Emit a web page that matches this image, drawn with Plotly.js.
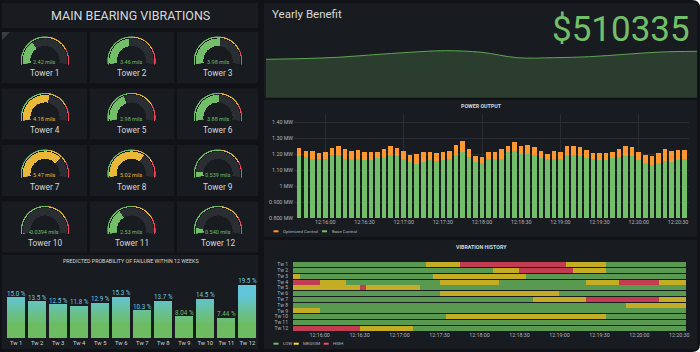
<!DOCTYPE html>
<html><head><meta charset="utf-8">
<script src="https://cdn.plot.ly/plotly-3.0.1.min.js"></script>
<style>html,body{margin:0;padding:0;background:#111217;}#chart{width:700px;height:352px;}</style>
</head><body><div id="chart"></div>
<script>
// ------------------ DATA ------------------
const towerNames = ["Tower 1","Tower 2","Tower 3","Tower 4","Tower 5","Tower 6","Tower 7","Tower 8","Tower 9","Tower 10","Tower 11","Tower 12"];
const vibrationMils = [2.42, 3.46, 3.98, 4.18, 2.98, 3.88, 5.47, 5.02, 0.539, 0.0394, 2.53, 0.540];
const vibrationText = ["2.42 mils","3.46 mils","3.98 mils","4.18 mils","2.98 mils","3.88 mils","5.47 mils","5.02 mils","0.539 mils","0.0394 mils","2.53 mils","0.540 mils"];
const gaugeMin = 0, gaugeMax = 7.5;
const gaugeThresholds = [0, 4, 6];

const failureCats = ["Tw 1","Tw 2","Tw 3","Tw 4","Tw 5","Tw 6","Tw 7","Tw 8","Tw 9","Tw 10","Tw 11","Tw 12"];
const failureProb = [15.0, 13.5, 12.5, 11.8, 12.9, 15.3, 10.3, 13.7, 8.04, 14.5, 7.44, 19.5];

const benefitValue = "$510335";
const benefitTrend = [38.4, 39.1, 40.4, 43.0, 45.4, 47.0, 45.4, 40.0, 40.0, 41.0, 43.4, 45.7, 46.4];

const powerTimes = ["12:15:40","12:15:45","12:15:50","12:15:55",
 "12:16:00","12:16:05","12:16:10","12:16:15","12:16:20","12:16:25","12:16:30","12:16:35","12:16:40","12:16:45","12:16:50","12:16:55",
 "12:17:00","12:17:05","12:17:10","12:17:15","12:17:20","12:17:25","12:17:30","12:17:35","12:17:40","12:17:45","12:17:50","12:17:55",
 "12:18:00","12:18:05","12:18:10","12:18:15","12:18:20","12:18:25","12:18:30","12:18:35","12:18:40","12:18:45","12:18:50","12:18:55",
 "12:19:00","12:19:05","12:19:10","12:19:15","12:19:20","12:19:25","12:19:30","12:19:35","12:19:40","12:19:45","12:19:50","12:19:55",
 "12:20:00","12:20:05","12:20:10","12:20:15","12:20:20","12:20:25","12:20:30","12:20:35"];
const optimizedMW = [1.237,1.220,1.220,1.206,1.214,1.237,1.250,1.231,1.220,1.225,
 1.214,1.210,1.212,1.233,1.250,1.239,1.220,1.195,1.202,1.212,
 1.214,1.206,1.214,1.216,1.258,1.281,1.233,1.189,1.183,1.214,
 1.212,1.231,1.250,1.275,1.252,1.258,1.244,1.216,1.202,1.216,
 1.212,1.250,1.248,1.241,1.225,1.208,1.208,1.206,1.214,1.233,
 1.252,1.241,1.214,1.195,1.185,1.208,1.233,1.220,1.223,1.227];
const baseMW = [1.189,1.179,1.170,1.166,1.168,1.195,1.195,1.170,1.170,1.170,
 1.164,1.160,1.172,1.181,1.193,1.189,1.166,1.147,1.135,1.151,
 1.160,1.154,1.164,1.170,1.195,1.214,1.179,1.147,1.145,1.168,
 1.168,1.168,1.212,1.220,1.202,1.202,1.193,1.177,1.168,1.168,
 1.168,1.195,1.195,1.189,1.177,1.168,1.162,1.160,1.174,1.181,
 1.189,1.185,1.162,1.145,1.133,1.145,1.158,1.151,1.164,1.168];
const powerTickVals = [0.8, 0.9, 1.0, 1.1, 1.2, 1.3, 1.4];
const powerTickText = ["0.800 MW","0.900 MW","1 MW","1.10 MW","1.20 MW","1.30 MW","1.40 MW"];

const historyRows = ["Tw 1","Tw 2","Tw 3","Tw 4","Tw 5","Tw 6","Tw 7","Tw 8","Tw 9","Tw 10","Tw 11","Tw 12"];
const historyStates = ["LOW","MEDIUM","HIGH"];
const historyChanges = [
 [["12:15:40","LOW"],["12:17:20","MEDIUM"],["12:17:45","HIGH"],["12:19:05","MEDIUM"],["12:19:35","LOW"]],
 [["12:15:40","LOW"],["12:18:10","MEDIUM"],["12:18:30","HIGH"],["12:19:10","MEDIUM"],["12:19:35","LOW"]],
 [["12:15:40","MEDIUM"],["12:15:45","LOW"],["12:17:25","MEDIUM"],["12:18:35","LOW"]],
 [["12:15:40","HIGH"],["12:16:00","MEDIUM"],["12:16:20","LOW"],["12:17:30","MEDIUM"],["12:18:15","LOW"],["12:19:20","MEDIUM"],["12:19:45","HIGH"],["12:20:15","MEDIUM"]],
 [["12:15:40","MEDIUM"],["12:16:30","HIGH"],["12:16:35","MEDIUM"],["12:17:15","LOW"]],
 [["12:15:40","LOW"],["12:17:30","MEDIUM"],["12:19:00","LOW"]],
 [["12:15:40","LOW"],["12:18:40","MEDIUM"],["12:19:20","HIGH"],["12:20:15","MEDIUM"]],
 [["12:15:40","LOW"],["12:19:50","MEDIUM"]],
 [["12:15:40","MEDIUM"],["12:16:00","LOW"]],
 [["12:15:40","LOW"],["12:17:35","MEDIUM"],["12:19:35","LOW"]],
 [["12:15:40","LOW"]],
 [["12:15:40","HIGH"],["12:16:30","MEDIUM"],["12:17:10","LOW"]]
];
const historyEnd = "12:20:35";

// ------------------ HELPERS ------------------
const W = 700, H = 352;
const px = x => x / W;
const py = y => 1 - y / H;
const D = t => "2024-01-01 " + t;
const ms = t => { const p = t.split(":").map(Number); return ((p[0]*60 + p[1])*60 + p[2]) * 1000; };
const FONT = "Roboto, 'Open Sans', sans-serif";
const TXT = "#d8d9da";
const TICK = "#b4b6bb";
const GREEN = "#73bf69", YELLOW = "#eab839", RED = "#f2495c";
const PANEL = "#181b1f";

const traces = [];
const shapes = [];
const annotations = [];

function rect(x0, y0, x1, y1, fill) {
  return {type:"rect", xref:"paper", yref:"paper", x0:px(x0), x1:px(x1), y0:py(y1), y1:py(y0),
          fillcolor:fill, line:{width:0}, layer:"below"};
}
function ann(x, y, text, size, color, opts) {
  return Object.assign({xref:"paper", yref:"paper", x:px(x), y:py(y), text:text, showarrow:false,
    xanchor:"center", yanchor:"middle", font:{family:FONT, size:size, color:color}}, opts || {});
}

// ------------------ PANELS ------------------
shapes.push(rect(2, 3, 258, 28, PANEL));
const gaugeCols = [45, 131.5, 218];
const gaugeRows = [60.5, 117, 173.5, 230];
const tileX = [[2,87],[90,174],[177,258]];
gaugeRows.forEach(cy => tileX.forEach(t => shapes.push(rect(t[0], cy - 28.5, t[1], cy + 22.5, PANEL))));
shapes.push(rect(2, 255, 258, 349, PANEL));
shapes.push(rect(264, 3, 697, 97.7, PANEL));
shapes.push(rect(264, 100, 697, 237, PANEL));
shapes.push(rect(264, 240, 697, 349, PANEL));
shapes.push({type:"path", xref:"paper", yref:"paper", layer:"above",
  path:"M"+px(2)+","+py(32)+" L"+px(10)+","+py(32)+" L"+px(2)+","+py(40)+" Z", fillcolor:"#3a3d44", line:{width:0}});

annotations.push(ann(130.5, 15.5, "MAIN BEARING VIBRATIONS", 12.5, TXT));

// ------------------ GAUGES (barpolar) ------------------
const R = 24.3;
const sin10 = Math.sin(10 * Math.PI / 180);
const SWEEP = 200;
const layoutPolar = {};
towerNames.forEach((name, i) => {
  const cx = gaugeCols[i % 3], cy = gaugeRows[Math.floor(i / 3)];
  const key = "polar" + (i === 0 ? "" : (i + 1));
  layoutPolar[key] = {
    domain:{x:[px(cx - R), px(cx + R)], y:[py(cy + R * sin10), py(cy - R)]},
    sector:[-10, 190], bgcolor:"rgba(0,0,0,0)", hole:0,
    radialaxis:{visible:false, range:[0, 1]},
    angularaxis:{visible:false, direction:"clockwise", rotation:190, thetaunit:"degrees"}
  };
  const v = vibrationMils[i];
  const frac = x => (Math.min(Math.max(x, gaugeMin), gaugeMax) - gaugeMin) / (gaugeMax - gaugeMin) * SWEEP;
  const span = frac(v);
  const col = v >= gaugeThresholds[2] ? RED : (v >= gaugeThresholds[1] ? YELLOW : GREEN);
  const t1 = frac(gaugeThresholds[1]), t2 = frac(gaugeThresholds[2]);
  traces.push({
    type:"barpolar", subplot:key, hoverinfo:"skip", showlegend:false,
    theta:[SWEEP/2, span/2, t1/2, (t1+t2)/2, (t2+SWEEP)/2],
    width:[SWEEP, span, t1, t2 - t1, SWEEP - t2],
    base:[0.6, 0.6, 0.945, 0.945, 0.945],
    r:[0.31, 0.31, 0.055, 0.055, 0.055],
    marker:{color:["#2a2d32", col, GREEN, YELLOW, RED], line:{width:0}}
  });
  annotations.push(ann(cx, cy + 1.5, vibrationText[i], 5.5, col));
  annotations.push(ann(cx, cy + 13, name, 8.3, TXT));
});

// ------------------ FAILURE PROBABILITY (gradient bars) ------------------
const segStep = 0.5;
const maxProb = Math.max.apply(null, failureProb);
function gradColor(level) {
  const t = Math.max(0, Math.min(1, (level - 5) / 11));
  const a = [110, 190, 98], b = [98, 200, 222];
  const c = a.map((v, k) => Math.round(v + (b[k] - v) * t));
  return "rgba(" + c.join(",") + ",0.99)";
}
for (let k = 0; k * segStep < maxProb; k++) {
  const lo = k * segStep;
  traces.push({
    type:"bar", xaxis:"x3", yaxis:"y3", x:failureCats,
    y:failureProb.map(v => Math.max(0, Math.min(segStep, v - lo))),
    base:failureCats.map(() => lo), width:0.84,
    marker:{color:gradColor(lo + segStep / 2), line:{width:0}},
    hoverinfo:"skip", showlegend:false
  });
}
traces.push({
  type:"scatter", mode:"text", xaxis:"x3", yaxis:"y3", x:failureCats, y:failureProb,
  text:failureProb.map(v => v.toPrecision(3) + " %"), textposition:"top center",
  textfont:{family:FONT, size:6.3, color:failureProb.map(v => v >= 10 ? "#6ec9e0" : GREEN)},
  hoverinfo:"skip", showlegend:false, cliponaxis:false
});
annotations.push(ann(130.5, 261, "PREDICTED PROBABILITY OF FAILURE WITHIN 12 WEEKS", 5.3, TXT));

// ------------------ YEARLY BENEFIT ------------------
traces.push({
  type:"scatter", mode:"lines", xaxis:"x4", yaxis:"y4",
  x:benefitTrend.map((_, i) => i), y:benefitTrend,
  line:{color:"#5ea653", width:1, shape:"spline", smoothing:1}, fill:"tozeroy", fillcolor:"#2b3d2f",
  hoverinfo:"skip", showlegend:false
});
annotations.push(ann(270, 14, "Yearly Benefit", 11.5, TXT, {xanchor:"left"}));
annotations.push(ann(692, 29, benefitValue, 35, GREEN, {xanchor:"right"}));

// ------------------ POWER OUTPUT ------------------
traces.push({
  type:"bar", xaxis:"x", yaxis:"y", x:powerTimes.map(D), y:optimizedMW, width:3450,
  marker:{color:"#ff9830", line:{width:0}}, name:"Optimized Control", hoverinfo:"skip", showlegend:false
});
traces.push({
  type:"bar", xaxis:"x5", yaxis:"y", x:powerTimes.map(D), y:baseMW, width:3450,
  marker:{color:"#73bf69", line:{width:0}}, name:"Base Control", hoverinfo:"skip", showlegend:false
});
annotations.push(ann(481, 106.5, "<b>POWER OUTPUT</b>", 5.3, TXT));
function legendItem(x, y, color, label) {
  shapes.push({type:"line", xref:"paper", yref:"paper", x0:px(x), x1:px(x + 5), y0:py(y), y1:py(y),
    line:{color:color, width:2}});
  annotations.push(ann(x + 7.5, y, label, 4.4, TICK, {xanchor:"left"}));
}
legendItem(273.5, 231.3, "#ff9830", "Optimized Control");
legendItem(322, 231.3, "#73bf69", "Base Control");

// ------------------ VIBRATION HISTORY ------------------
const stateColors = {LOW:"#5a9a50", MEDIUM:"#c4ac24", HIGH:"#c33d52"};
const segs = {};
historyStates.forEach(s => segs[s] = {y:[], base:[], x:[]});
historyChanges.forEach((row, i) => {
  row.forEach((c, j) => {
    const start = c[0];
    const end = j + 1 < row.length ? row[j + 1][0] : historyEnd;
    segs[c[1]].y.push(historyRows[i]);
    segs[c[1]].base.push(D(start));
    segs[c[1]].x.push(ms(end) - ms(start));
  });
});
historyStates.forEach(s => {
  traces.push({
    type:"bar", orientation:"h", xaxis:"x2", yaxis:"y2", y:segs[s].y, x:segs[s].x, base:segs[s].base,
    width:0.86, marker:{color:stateColors[s], line:{width:0}}, name:s, hoverinfo:"skip", showlegend:false
  });
});
annotations.push(ann(481, 247, "<b>VIBRATION HISTORY</b>", 5.3, TXT));
legendItem(273.5, 343.7, GREEN, "LOW");
legendItem(293.7, 343.7, "#fade2a", "MEDIUM");
legendItem(323.7, 343.7, RED, "HIGH");

// ------------------ rounded screenshot corners ------------------
const rx = 8 / W, ry = 8 / H;
shapes.push({type:"path", xref:"paper", yref:"paper", layer:"above", line:{width:0}, fillcolor:"#ffffff",
  path:"M"+(1-rx)+",1 L1,1 L1,"+(1-ry)+" Q1,1 "+(1-rx)+",1 Z"});
shapes.push({type:"path", xref:"paper", yref:"paper", layer:"above", line:{width:0}, fillcolor:"#ffffff",
  path:"M"+(1-rx)+",0 L1,0 L1,"+ry+" Q1,0 "+(1-rx)+",0 Z"});

// ------------------ LAYOUT ------------------
const tickFont = {family:FONT, size:5.3, color:TICK};
const layout = Object.assign({
  width:W, height:H, margin:{l:0, r:0, t:0, b:0},
  paper_bgcolor:"#111217", plot_bgcolor:"rgba(0,0,0,0)",
  font:{family:FONT, color:TXT}, showlegend:false, barmode:"overlay", bargap:0,
  xaxis:{domain:[294/W, 689/W], anchor:"y", type:"date", range:[D("12:15:36"), D("12:20:38.5")],
    tick0:D("12:16:00"), dtick:30000, tickformat:"%H:%M:%S", showgrid:false, zeroline:false,
    showline:false, ticks:"", tickfont:tickFont, fixedrange:true},
  xaxis5:{overlaying:"x", anchor:"y", domain:[294/W, 689/W], type:"date", range:[D("12:15:36"), D("12:20:38.5")],
    tick0:D("12:16:00"), dtick:60000, showgrid:true, gridcolor:"#2a2d33", gridwidth:1,
    showticklabels:false, ticks:"", zeroline:false, showline:false},
  yaxis:{domain:[py(218), py(114)], anchor:"x", range:[0.8, 1.45], tickvals:powerTickVals, ticktext:powerTickText,
    showgrid:true, gridcolor:"#2a2d33", zeroline:false, showline:false, ticks:"", tickfont:tickFont},
  xaxis2:{domain:[293/W, 686/W], anchor:"y2", type:"date", range:[D("12:15:40"), D(historyEnd)],
    tick0:D("12:16:00"), dtick:30000, tickformat:"%H:%M:%S", showgrid:false, zeroline:false,
    showline:false, ticks:"", tickfont:tickFont},
  yaxis2:{domain:[py(330.9), py(261.8)], anchor:"x2", type:"category", categoryorder:"array",
    categoryarray:historyRows, tickmode:"array", tickvals:historyRows, ticktext:historyRows,
    autorange:"reversed", showgrid:false, zeroline:false, showline:false,
    ticks:"", tickfont:{family:FONT, size:5, color:TICK}, ticklabelstandoff:4},
  xaxis3:{domain:[3.3/W, 260.2/W], anchor:"y3", type:"category", showgrid:false, zeroline:false,
    showline:false, ticks:"", tickfont:{family:FONT, size:5.8, color:TXT}},
  yaxis3:{domain:[py(338.3), py(270)], anchor:"x3", range:[0, 25], visible:false},
  xaxis4:{domain:[266/W, 697/W], anchor:"y4", range:[0, benefitTrend.length - 1], visible:false},
  yaxis4:{domain:[py(97.7), py(50)], anchor:"x4", range:[0, 47.7], visible:false},
  shapes:shapes, annotations:annotations
}, layoutPolar);

Plotly.newPlot("chart", traces, layout, {displayModeBar:false, responsive:false});
</script>
</body></html>
